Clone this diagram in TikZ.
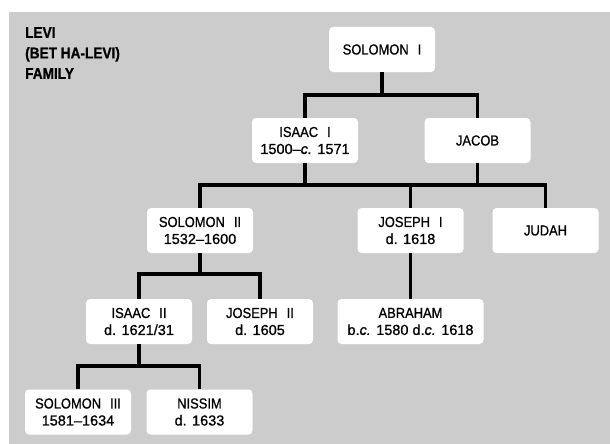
\documentclass[tikz,border=0pt]{standalone}
\usepackage{fontspec}
\setmainfont{Liberation Sans}[FakeBold=0.8]
\newfontfamily\namefont{Liberation Sans}[FakeStretch=0.89, FakeBold=0.8]
\newfontfamily\titlefont{Liberation Sans Bold}[FakeStretch=0.88, FakeBold=1.0]
\definecolor{famGray}{RGB}{204,204,204}
\newcommand{\ordsep}{\hspace{9pt}}
\tikzset{
	person/.style={fill=white, rounded corners=4pt, minimum width=106pt,
		minimum height=45pt, inner sep=0pt, align=center},
	link/.style={line width=3.8pt},
}

\begin{document}
\begin{tikzpicture}[x=1pt,y=-1pt,%
	every node/.style={
		font=\fontsize{14.5}{17}\selectfont,
	},
	]
	\useasboundingbox (0,0) rectangle (610,444);
	
	% draw background panel
	\fill[famGray] (9,12) rectangle (610,444);
	
	% place title
	\node[anchor=north west, inner sep=0pt, align=left,
		font=\fontsize{15.5}{20.5}\selectfont\titlefont] (title) at (25,27)
		{LEVI\\(BET HA-LEVI)\\FAMILY};
	
	% place family members
	\node[person] (sol1) at (382,49.5) {{\namefont SOLOMON\ordsep I}};
	
	\node[person] (isaac1) at (305,140.5) {{\namefont ISAAC\ordsep I}\\1500--\textit{c.} 1571};
	\node[person] (jacob) at (477.5,140.5) {{\namefont JACOB}};
	
	\node[person] (sol2) at (200,230.5) {{\namefont SOLOMON\ordsep II}\\1532--1600};
	\node[person] (jos1) at (410.5,230.5) {{\namefont JOSEPH\ordsep I}\\d. 1618};
	\node[person] (judah) at (545.5,230.5) {{\namefont JUDAH}};
	
	\node[person] (isaac2) at (139,321.5) {{\namefont ISAAC\ordsep II}\\d. 1621/31};
	\node[person] (jos2) at (260,321.5) {{\namefont JOSEPH\ordsep II}\\d. 1605};
	\node[person, minimum width=146pt] (abraham) at (410.5,321.5)
		{{\namefont ABRAHAM}\\b.\textit{c.} 1580 d.\textit{c.} 1618};
	
	\node[person] (sol3) at (78,412) {{\namefont SOLOMON\ordsep III}\\1581--1634};
	\node[person] (nissim) at (199.5,412) {{\namefont NISSIM}\\d. 1633};
	
	% bus heights
	\coordinate (bus1) at (0,95);
	\coordinate (bus2) at (0,185);
	\coordinate (bus3) at (0,274);
	\coordinate (bus4) at (0,366);
	
	% draw connectors
	\draw[link] (sol1.south) -- (sol1.south |- bus1);
	\draw[link] (isaac1.north) |- (jacob.north |- bus1) -- (jacob.north);
	
	\draw[link] (isaac1.south) -- (isaac1.south |- bus2);
	\draw[link] (jacob.south) -- (jacob.south |- bus2);
	\draw[link] (sol2.north) |- (judah.north |- bus2) -- (judah.north);
	\draw[link] (jos1.north) -- (jos1.north |- bus2);
	
	\draw[link] (jos1.south) -- (abraham.north);
	
	\draw[link] (sol2.south) -- (sol2.south |- bus3);
	\draw[link] (isaac2.north) |- (jos2.north |- bus3) -- (jos2.north);
	
	\draw[link] (isaac2.south) -- (isaac2.south |- bus4);
	\draw[link] (sol3.north) |- (nissim.north |- bus4) -- (nissim.north);
\end{tikzpicture}
\end{document}
